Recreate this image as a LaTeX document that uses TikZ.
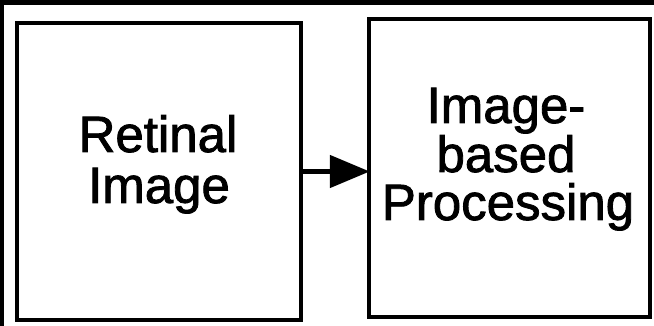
\documentclass[tikz,border=0pt]{standalone}
\usepackage{fontspec}
\setmainfont{Liberation Sans}
\newfontfamily\lblfont{Liberation Sans}[FakeBold=1.6]
\usetikzlibrary{arrows.meta}
\tikzset{
  box/.style={draw=black, line width=4.5pt, inner sep=0pt},
  label/.style={anchor=base, inner sep=0pt, text=black, font=\lblfont\fontsize{51}{51}\selectfont},
  flow/.style={line width=5pt, shorten >=-3pt, -{Triangle[length=40pt,width=32pt]}}
}
\begin{document}
\begin{tikzpicture}[x=1pt,y=-1pt]
\useasboundingbox (0,0) rectangle (654,326);
\fill[white] (0,0) rectangle (654,326);
\fill[black] (0,0) rectangle (654,5);
\fill[black] (0,0) rectangle (4,326);
\node[box, minimum width=284pt, minimum height=297pt] (L) at (159,171.5) {};
\node[box, minimum width=281pt, minimum height=298pt] (R) at (509.5,168) {};
\node[label] (l1) at (158,152) {Retinal};
\node[label] (l2) at (159,203) {Image};
\node[label] (r1) at (506,123) {Image-};
\node[label] (r2) at (506,172) {based};
\node[label] (r3) at (508,220) {Processing};
\draw[flow] (L.east) -- (L.east -| R.west);
\end{tikzpicture}
\end{document}
